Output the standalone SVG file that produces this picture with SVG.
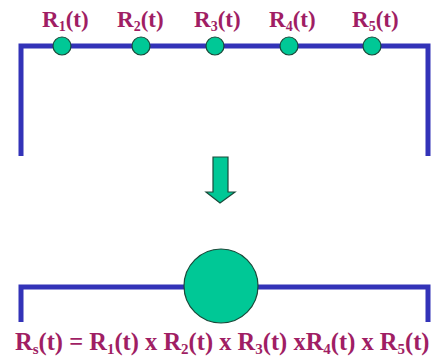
<svg xmlns="http://www.w3.org/2000/svg" width="437" height="362" viewBox="0 0 437 362">
<style>
.wire{fill:none;stroke:#3333b8;stroke-width:5;stroke-linejoin:miter}
.comp{fill:#00c896;stroke:#1a4a3a;stroke-width:1.2}
.lbl{font-family:"Liberation Serif",serif;font-weight:bold;fill:#a01e64;font-size:23px}
.sub{font-size:14px}
.big{font-size:24.5px}
.big .sub{font-size:15px}
</style>
<rect width="437" height="362" fill="#ffffff"/>
<g id="connectors">
<path class="wire" d="M21,156 V46 H428 V156"/>
<path class="wire" d="M21,322 V287 H428 V322"/>
</g>
<g id="r1"><circle class="comp" cx="62" cy="46" r="9"/><text class="lbl" x="42" y="27">R<tspan class="sub" dy="4">1</tspan><tspan dy="-4">(t)</tspan></text></g>
<g id="r2"><circle class="comp" cx="141" cy="46" r="9"/><text class="lbl" x="117" y="27">R<tspan class="sub" dy="4">2</tspan><tspan dy="-4">(t)</tspan></text></g>
<g id="r3"><circle class="comp" cx="215" cy="46" r="9"/><text class="lbl" x="194" y="27">R<tspan class="sub" dy="4">3</tspan><tspan dy="-4">(t)</tspan></text></g>
<g id="r4"><circle class="comp" cx="289" cy="46" r="9"/><text class="lbl" x="269" y="27">R<tspan class="sub" dy="4">4</tspan><tspan dy="-4">(t)</tspan></text></g>
<g id="r5"><circle class="comp" cx="372" cy="46" r="9"/><text class="lbl" x="352" y="27">R<tspan class="sub" dy="4">5</tspan><tspan dy="-4">(t)</tspan></text></g>
<g id="arrow"><path class="comp" d="M213,157 H228 V192 H235 L220,203 L206,192 H213 Z"/></g>
<g id="rs"><circle class="comp" cx="221" cy="286" r="37"/></g>
<g id="formula"><text class="lbl big" x="15" y="350">R<tspan class="sub" dy="4">s</tspan><tspan dy="-4">(t) = R</tspan><tspan class="sub" dy="4">1</tspan><tspan dy="-4">(t) x R</tspan><tspan class="sub" dy="4">2</tspan><tspan dy="-4">(t) x R</tspan><tspan class="sub" dy="4">3</tspan><tspan dy="-4">(t) xR</tspan><tspan class="sub" dy="4">4</tspan><tspan dy="-4">(t) x R</tspan><tspan class="sub" dy="4">5</tspan><tspan dy="-4">(t)</tspan></text></g>
</svg>
